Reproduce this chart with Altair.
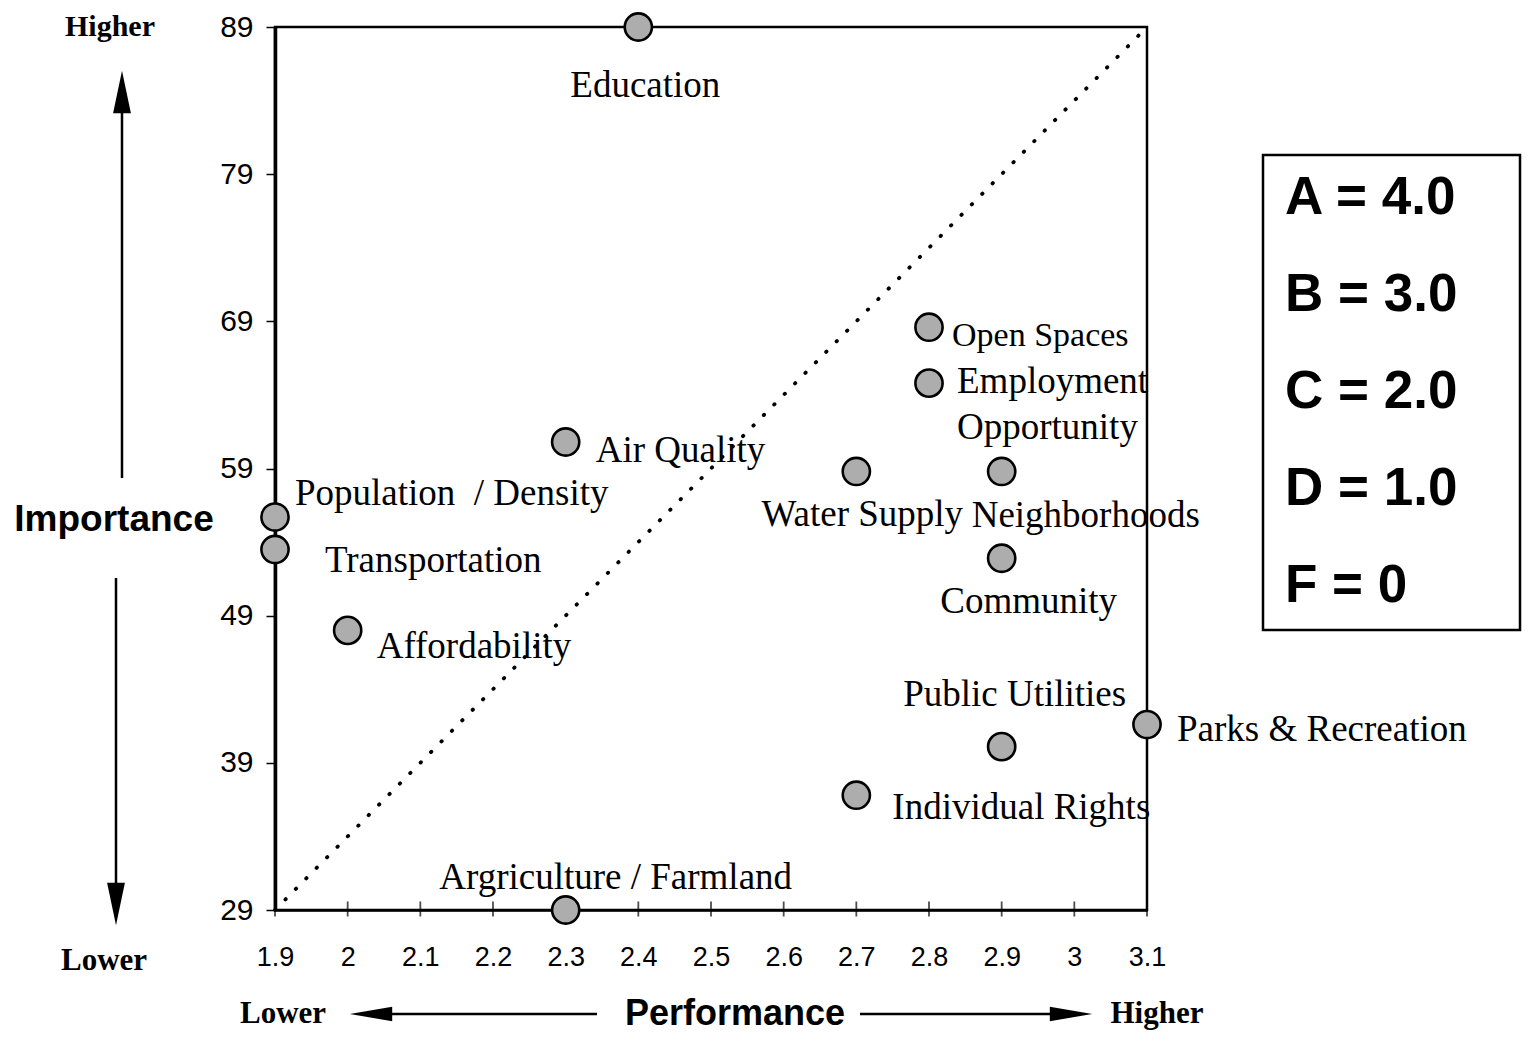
import altair as alt
import pandas as pd

# ---- data ----
topics = ["Education", "Open Spaces", "Employment Opportunity", "Air Quality",
          "Water Supply", "Neighborhoods", "Population\u00a0 / Density", "Transportation",
          "Community", "Affordability", "Parks & Recreation", "Public Utilities",
          "Individual Rights", "Argriculture / Farmland"]
performance = [2.4, 2.8, 2.8, 2.3, 2.7, 2.9, 1.9, 1.9, 2.9, 2.0, 3.1, 2.9, 2.7, 2.3]
importance = [89.0, 68.6, 64.8, 60.8, 58.8, 58.8, 55.7, 53.5, 52.9, 48.0, 41.6, 40.1, 36.8, 29.0]

x_ticks = [1.9, 2.0, 2.1, 2.2, 2.3, 2.4, 2.5, 2.6, 2.7, 2.8, 2.9, 3.0, 3.1]
y_ticks = [29, 39, 49, 59, 69, 79, 89]
diag_x = [1.9, 3.1]
diag_y = [29, 89]
grades = ["A = 4.0", "B = 3.0", "C = 2.0", "D = 1.0", "F = 0"]

df = pd.DataFrame({"topic": topics, "perf": performance, "imp": importance})
diag = pd.DataFrame({"perf": diag_x, "imp": diag_y})
ticks = pd.DataFrame({"t": x_ticks})
one = pd.DataFrame({"a": [0]})

W, H = 872, 883
xs = alt.Scale(domain=[1.9, 3.1], nice=False, zero=False)
ys = alt.Scale(domain=[29, 89], nice=False, zero=False)

SERIF = "Liberation Serif"
SANS = "Liberation Sans"
LFS = 37  # point label font size

X = alt.X("perf:Q", scale=xs,
          axis=alt.Axis(values=x_ticks, format="~g", title=None, ticks=False, tickSize=0,
                        labelPadding=34, labelFontSize=27, labelFont=SANS, labelColor="black",
                        labelFlush=False, labelOverlap=False,
                        domainColor="black", domainWidth=2.5, grid=False))
Y = alt.Y("imp:Q", scale=ys,
          axis=alt.Axis(values=y_ticks, title=None, tickSize=9, tickWidth=1.5, tickColor="black",
                        labelPadding=13, labelFontSize=30, labelFont=SANS, labelColor="black",
                        labelFlush=False, labelOverlap=False,
                        domainColor="black", domainWidth=3.5, grid=False))

diag_line = alt.Chart(diag).mark_line(color="black", strokeWidth=3.8, strokeDash=[0.5, 14.3],
                                      strokeCap="round").encode(
    x=alt.X("perf:Q", scale=xs), y=alt.Y("imp:Q", scale=ys))

tick_marks = alt.Chart(ticks).mark_tick(orient="vertical", size=15, thickness=1.8,
                                        color="black").encode(
    x=alt.X("t:Q", scale=xs), y=alt.value(H - 1))

points = alt.Chart(df).mark_circle(size=740, color="#adadad", stroke="black",
                                   strokeWidth=2.6, opacity=1).encode(x=X, y=Y)

# label placement (layout only): align, dx, dy, font size
label_layout = {
    "Education": ("center", 7, 59, LFS),
    "Open Spaces": ("left", 23, 9, 34),
    "Air Quality": ("left", 30, 9, LFS),
    "Water Supply": ("center", 6, 44, LFS),
    "Neighborhoods": ("left", -30, 45, LFS),
    "Population\u00a0 / Density": ("left", 20, -23, LFS),
    "Transportation": ("left", 50, 12, LFS),
    "Community": ("center", 27, 44, LFS),
    "Affordability": ("left", 29, 17, LFS),
    "Parks & Recreation": ("left", 30, 5, LFS),
    "Public Utilities": ("center", 13, -52, LFS),
    "Individual Rights": ("left", 36, 13, LFS),
    "Argriculture / Farmland": ("center", 50, -32, LFS),
}

layers = [diag_line, tick_marks, points]
for name, (al, dx, dy, fs) in label_layout.items():
    layers.append(
        alt.Chart(df).transform_filter(alt.datum.topic == name).mark_text(
            align=al, baseline="middle", dx=dx, dy=dy, font=SERIF, fontSize=fs, color="black"
        ).encode(x=alt.X("perf:Q", scale=xs), y=alt.Y("imp:Q", scale=ys), text="topic:N"))

# two-line label
layers.append(
    alt.Chart(df).transform_filter(alt.datum.topic == "Employment Opportunity").mark_text(
        align="left", baseline="top", dx=28, dy=-19, font=SERIF, fontSize=LFS, color="black",
        lineBreak=" ", lineHeight=46
    ).encode(x=alt.X("perf:Q", scale=xs), y=alt.Y("imp:Q", scale=ys), text="topic:N"))


def txt(s, x, y, font, size, weight="normal", align="center"):
    return alt.Chart(one).mark_text(text=s, font=font, fontSize=size, fontWeight=weight,
                                    align=align, baseline="middle", color="black").encode(
        x=alt.value(x), y=alt.value(y))


def rule(x1, y1, x2, y2, w=2.5):
    return alt.Chart(one).mark_rule(color="black", strokeWidth=w).encode(
        x=alt.value(x1), y=alt.value(y1), x2=alt.value(x2), y2=alt.value(y2))


def head(x, y, path, size):
    return alt.Chart(one).mark_point(shape=path, size=size, filled=True, color="black",
                                     opacity=1, strokeWidth=0).encode(
        x=alt.value(x), y=alt.value(y))


UP = "M0,-1 L0.42,1 L-0.42,1 Z"
DOWN = "M0,1 L0.42,-1 L-0.42,-1 Z"
LEFT = "M-1,0 L1,-0.34 L1,0.34 Z"
RIGHT = "M1,0 L-1,-0.34 L-1,0.34 Z"

BY = 987  # bottom annotation row
ann = [
    # vertical annotations
    txt("Higher", -165, 0, SERIF, 30, "bold"),
    rule(-153, 451, -153, 80),
    head(-153, 65, UP, 1800),
    txt("Importance", -161, 493, SANS, 37, "bold"),
    rule(-159, 551, -159, 862),
    head(-159, 877, DOWN, 1800),
    txt("Lower", -171, 934, SERIF, 31, "bold"),
    # horizontal annotations
    txt("Lower", 8, BY, SERIF, 31, "bold"),
    head(96, BY, LEFT, 1800),
    rule(110, BY, 322, BY),
    txt("Performance", 460, BY, SANS, 36, "bold"),
    rule(585, BY, 782, BY),
    head(796, BY, RIGHT, 1800),
    txt("Higher", 882, BY, SERIF, 31, "bold"),
    # grade box
    alt.Chart(one).mark_rect(fill="white", stroke="black", strokeWidth=2.5).encode(
        x=alt.value(988), x2=alt.value(1245), y=alt.value(128), y2=alt.value(603)),
]
for i, g in enumerate(grades):
    ann.append(txt(g, 1010, 171 + i * 97, SANS, 53, "bold", align="left"))

chart = alt.layer(*layers, *ann).properties(
    width=W, height=H,
    background="white",
    autosize=alt.AutoSizeParams(type="none"),
    padding={"left": 267, "top": 19, "right": 375, "bottom": 125},
).configure_view(stroke="black", strokeWidth=2.5)

chart.save("out.html", embed_options={"renderer": "svg", "actions": False})
